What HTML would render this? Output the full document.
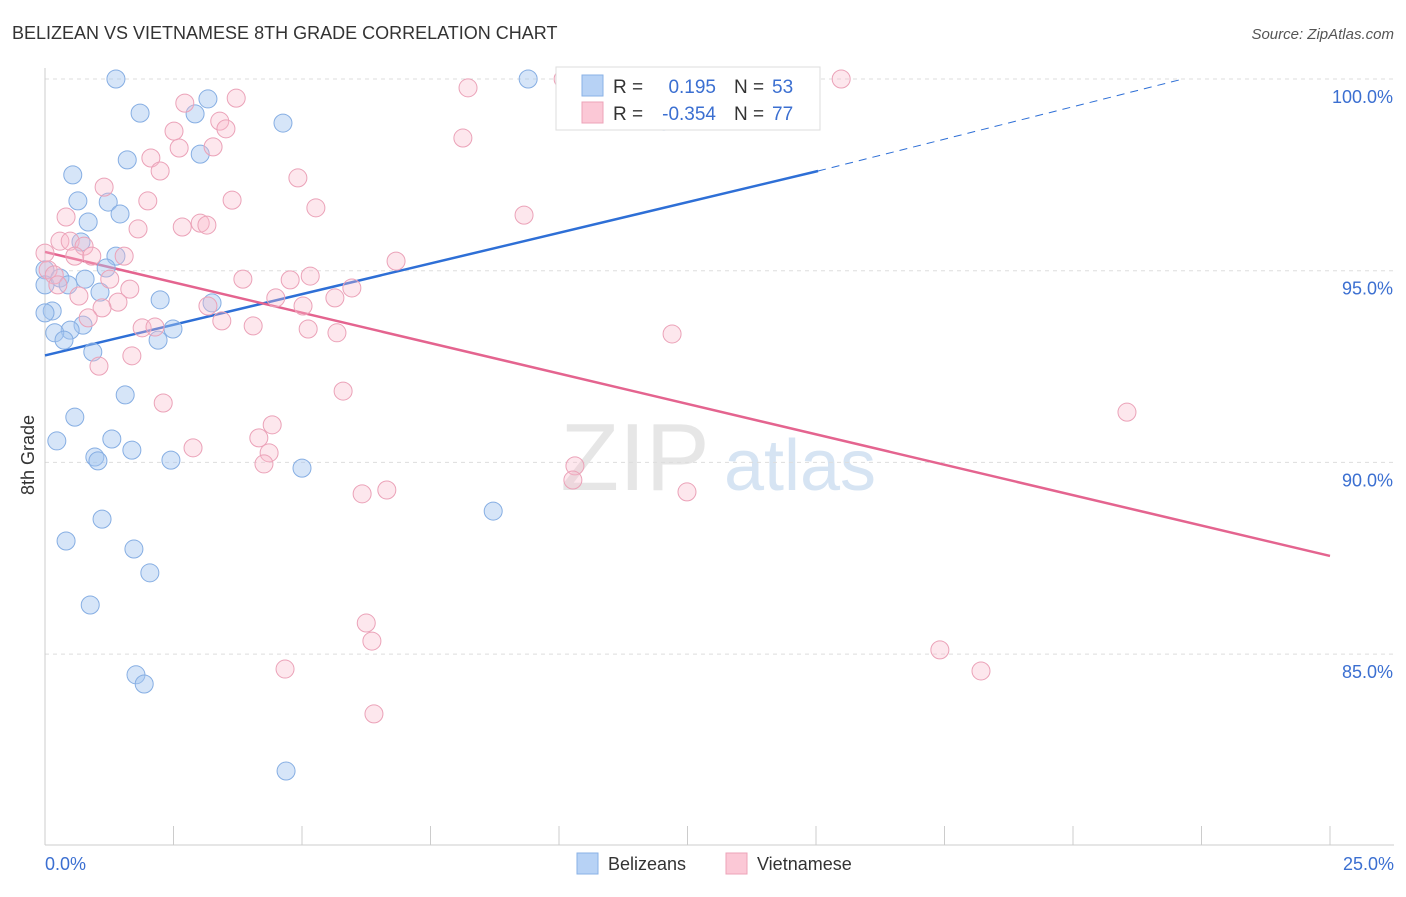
<!DOCTYPE html>
<html><head><meta charset="utf-8">
<style>
body{margin:0;background:#fff;font-family:"Liberation Sans",sans-serif;}
svg text{font-family:"Liberation Sans",sans-serif;}
</style></head>
<body>
<svg id="chart" width="1406" height="892" xmlns="http://www.w3.org/2000/svg">
<text x="12" y="39" font-size="18" fill="#333">BELIZEAN VS VIETNAMESE 8TH GRADE CORRELATION CHART</text>
<text x="1394" y="39" font-size="15" fill="#555" font-style="italic" text-anchor="end">Source: ZipAtlas.com</text>
<g>
<text x="635" y="490" font-size="96" fill="#e6e6e6" font-family="Liberation Serif" text-anchor="middle">ZIP</text>
<text x="800" y="490" font-size="72" fill="#d6e4f3" text-anchor="middle">atlas</text>
</g>
<g id="grid"></g>
<g id="axes"></g>
<g id="lines"></g>
<g id="points"></g>
<text x="34" y="455" font-size="18" fill="#333" transform="rotate(-90 34 455)" text-anchor="middle">8th Grade</text>
<text x="45" y="870" font-size="18" fill="#3b6fd1">0.0%</text>
<text x="1394" y="870" font-size="18" fill="#3b6fd1" text-anchor="end">25.0%</text>
<g>
<rect x="556" y="67" width="264" height="63" fill="#fff" stroke="#ddd"/>
<rect x="582" y="75" width="21" height="21" fill="#b7d2f5" stroke="#8ab2e6"/>
<rect x="582" y="102" width="21" height="21" fill="#fbc8d6" stroke="#eda3b8"/>
<text x="613" y="93" font-size="19" fill="#333">R =</text>
<text x="716" y="93" font-size="19" fill="#3b6fd1" text-anchor="end">0.195</text>
<text x="734" y="93" font-size="19" fill="#333">N =</text>
<text x="772" y="93" font-size="19" fill="#3b6fd1">53</text>
<text x="613" y="120" font-size="19" fill="#333">R =</text>
<text x="716" y="120" font-size="19" fill="#3b6fd1" text-anchor="end">-0.354</text>
<text x="734" y="120" font-size="19" fill="#333">N =</text>
<text x="772" y="120" font-size="19" fill="#3b6fd1">77</text>
</g>
<g>
<rect x="577" y="853" width="21" height="21" fill="#b7d2f5" stroke="#8ab2e6"/>
<text x="608" y="870" font-size="18" fill="#333">Belizeans</text>
<rect x="726" y="853" width="21" height="21" fill="#fbc8d6" stroke="#eda3b8"/>
<text x="757" y="870" font-size="18" fill="#333">Vietnamese</text>
</g>
</svg>
<script>
const yTicks=[100,95,90,85];
const yTickLabels=["100.0%","95.0%","90.0%","85.0%"];
const xTicks=[0,2.5,5,7.5,10,12.5,15,17.5,20,22.5,25];
const blueX=[1.38,9.40,10.12,1.85,3.17,2.92,4.63,3.02,1.60,0.54,0.64,1.23,1.46,0.84,0.70,1.38,1.19,0,0,0.29,0.78,0.45,1.07,2.24,3.25,0.14,0,0.74,0.49,0.19,0.37,2.49,2.20,0.93,1.56,0.58,0.23,1.30,1.69,0.97,1.03,2.45,5.00,8.72,1.11,0.41,1.73,2.04,0.88,1.77,1.93,4.69,12.04];
const blueY=[100,100,100,99.11,99.48,99.09,98.85,98.04,97.89,97.50,96.82,96.79,96.48,96.27,95.75,95.38,95.07,95.02,94.63,94.81,94.78,94.63,94.44,94.24,94.16,93.95,93.90,93.58,93.45,93.38,93.19,93.48,93.19,92.88,91.76,91.18,90.56,90.61,90.32,90.14,90.04,90.06,89.85,88.73,88.52,87.95,87.74,87.12,86.28,84.46,84.22,81.95,98.90];
const pinkX=[10.08,15.49,8.23,2.72,3.72,3.40,3.52,2.51,3.27,2.61,8.13,2.06,2.24,1.15,4.92,2.00,3.64,5.27,9.32,0.41,1.81,3.02,3.15,2.67,0.29,0.49,0.76,0,0.58,1.54,0.91,6.83,0.06,0.18,1.26,0.25,3.85,5.16,4.77,1.65,0.66,1.42,4.49,5.64,5.97,3.17,1.11,5.02,0.84,3.44,4.05,1.89,2.14,5.12,5.68,12.20,1.69,1.05,5.80,2.30,4.42,4.16,2.88,4.36,4.26,10.31,10.27,6.17,6.65,12.49,21.05,6.25,6.36,17.41,18.21,4.67,6.40];
const pinkY=[100,100,99.77,99.37,99.50,98.90,98.70,98.64,98.23,98.20,98.46,97.94,97.60,97.18,97.42,96.82,96.84,96.64,96.45,96.40,96.09,96.24,96.19,96.14,95.77,95.77,95.64,95.46,95.38,95.38,95.38,95.25,95.02,94.89,94.78,94.63,94.78,94.86,94.76,94.52,94.34,94.18,94.29,94.29,94.55,94.08,94.03,94.08,93.77,93.69,93.56,93.51,93.53,93.48,93.38,93.35,92.78,92.51,91.86,91.55,90.98,90.64,90.38,90.25,89.96,89.91,89.54,89.18,89.28,89.23,91.31,85.81,85.34,85.11,84.56,84.61,83.44];
const blueTrend=[[0,92.79],[15.04,97.60]];
const blueTrendExt=[[15.04,97.60],[22.14,100]];
const pinkTrend=[[0,95.49],[25,87.56]];

const NS="http://www.w3.org/2000/svg";
const sx=v=>45+v/25*1285;
const sy=v=>79+(100-v)/5*191.7;
function mk(tag,attrs,parent){const e=document.createElementNS(NS,tag);for(const k in attrs)e.setAttribute(k,attrs[k]);parent.appendChild(e);return e;}
const grid=document.getElementById('grid'),axes=document.getElementById('axes'),lines=document.getElementById('lines'),pts=document.getElementById('points');
yTicks.forEach((t,i)=>{
  const l=mk('line',{x1:45,x2:1394,y1:sy(t),y2:sy(t),stroke:'#ddd','stroke-dasharray':'4 4'},grid);
  
  
  const tx=mk('text',{x:1393,y:sy(t)+24,'font-size':18,fill:'#3b6fd1','text-anchor':'end'},axes);
  tx.textContent=yTickLabels[i];
  
  
});
const ax=mk('line',{x1:45,x2:45,y1:68,y2:845,stroke:'#ccc'},axes);


const bx=mk('line',{x1:45,x2:1394,y1:845,y2:845,stroke:'#ccc'},axes);


xTicks.forEach(t=>{
  const l=mk('line',{x1:sx(t),x2:sx(t),y1:826,y2:845,stroke:'#ccc'},axes);
  
  
});
function dot(x,y,fill,stroke,name){
  const c=mk('circle',{cx:sx(x),cy:sy(y),r:9,fill:fill,stroke:stroke,'stroke-width':1},pts);
  
  
}
blueX.forEach((x,i)=>dot(x,blueY[i],'rgba(164,198,240,0.45)','#86aee3','belizean-point'));
pinkX.forEach((x,i)=>dot(x,pinkY[i],'rgba(248,186,204,0.35)','#eba2b8','vietnamese-point'));
let l1=mk('line',{x1:sx(blueTrend[0][0]),y1:sy(blueTrend[0][1]),x2:sx(blueTrend[1][0]),y2:sy(blueTrend[1][1]),stroke:'#2e6fd6','stroke-width':2.5},lines);


let l2=mk('line',{x1:sx(blueTrendExt[0][0]),y1:sy(blueTrendExt[0][1]),x2:sx(blueTrendExt[1][0]),y2:sy(blueTrendExt[1][1]),stroke:'#2e6fd6','stroke-width':1,'stroke-dasharray':'8 6'},lines);


let l3=mk('line',{x1:sx(pinkTrend[0][0]),y1:sy(pinkTrend[0][1]),x2:sx(pinkTrend[1][0]),y2:sy(pinkTrend[1][1]),stroke:'#e4648f','stroke-width':2.5},lines);


</script>
</body></html>
